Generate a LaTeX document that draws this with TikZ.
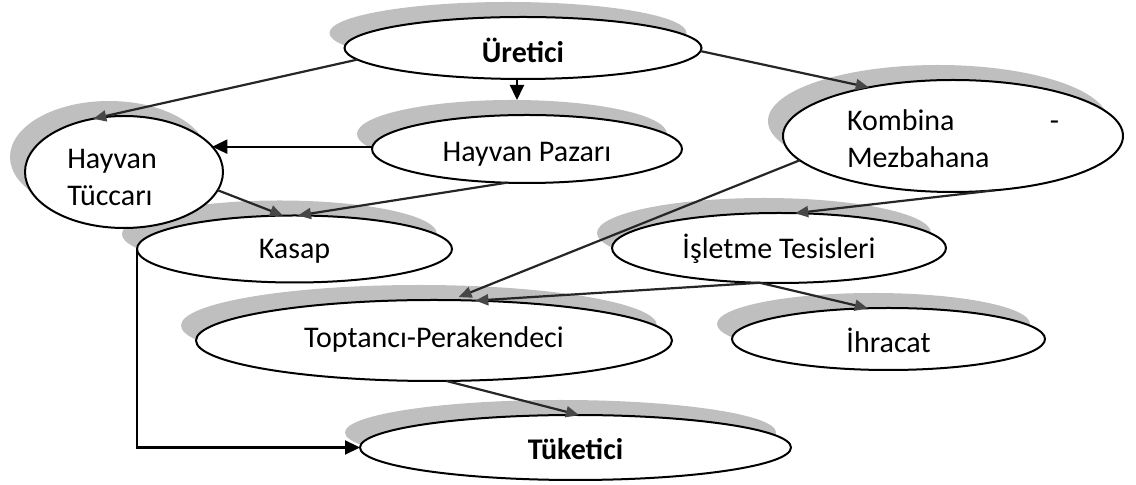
\documentclass[tikz,border=0pt]{standalone}
\usepackage{fontspec}
\setmainfont{Carlito}
\usetikzlibrary{arrows.meta,shapes.geometric}
\definecolor{shadowgray}{RGB}{191,191,191}

\begin{document}
\begin{tikzpicture}[x=0.5pt,y=-0.5pt,font=\fontsize{15}{18.5}\selectfont]
       \tikzstyle{blob}=[ellipse, draw, fill=white, line width=1pt, inner sep=0pt, outer sep=0pt, text depth=0pt]
       \tikzstyle{blobshadow}=[ellipse, fill=shadowgray, inner sep=0pt, outer sep=0pt]
       \tikzstyle{arr}=[line width=1.1pt, -{Triangle[length=7.5pt,width=7pt]}]
       \tikzstyle{arrg}=[line width=1.1pt, color=black!85, -{Triangle[length=6.5pt,width=5.5pt,color=black!72]}]

       \useasboundingbox (0,0) rectangle (1136,485);

       % shadows
       \node[blobshadow, minimum width=178.5pt, minimum height=31pt] (urs) at (508,33) {};
       \node[blobshadow, minimum width=99pt, minimum height=56pt] (hts) at (109,157) {};
       \node[blobshadow, minimum width=155pt, minimum height=34pt] (hps) at (512,134) {};
       \node[blobshadow, minimum width=170pt, minimum height=56pt] (kms) at (938,121) {};
       \node[blobshadow, minimum width=157.5pt, minimum height=33.5pt] (kss) at (279.5,234) {};
       \node[blobshadow, minimum width=167pt, minimum height=35pt] (its) at (764,233) {};
       \node[blobshadow, minimum width=238pt, minimum height=40.5pt] (tps) at (419,325.5) {};
       \node[blobshadow, minimum width=156.5pt, minimum height=31pt] (ihs) at (873.5,324) {};
       \node[blobshadow, minimum width=215.5pt, minimum height=32.5pt] (tks) at (560.5,432.5) {};

       % ellipses
       \node[blob, minimum width=178.5pt, minimum height=31pt, text height=15pt] (ur) at (523,48) {\textbf{Üretici}};
       \node[blob, minimum width=99pt, minimum height=56pt, text depth=] (ht) at (124,172)
            {\hspace*{-12pt}\raisebox{-4pt}[\height][\depth]{\begin{tabular}{@{}l@{}}Hayvan\\Tüccarı\end{tabular}}};
       \node[blob, minimum width=155pt, minimum height=34pt, text height=13pt] (hp) at (527,149) {Hayvan Pazarı};
       \node[blob, minimum width=170pt, minimum height=56pt, text depth=] (km) at (953,136)
            {\raisebox{-2.8pt}[\height][\depth]{\begin{tabular}{@{}l@{}}\makebox[106pt][l]{Kombina\hfill-}\\Mezbahana\end{tabular}}};
       \node[blob, minimum width=157.5pt, minimum height=33.5pt, text height=10pt] (ks) at (294.5,249) {Kasap};
       \node[blob, minimum width=167pt, minimum height=35pt, text height=11pt] (it) at (779,248) {İşletme Tesisleri};
       \node[blob, minimum width=238pt, minimum height=40.5pt, text height=7.5pt] (tp) at (434,340.5) {Toptancı-Perakendeci};
       \node[blob, minimum width=156.5pt, minimum height=31pt, text height=14pt] (ih) at (888.5,339) {İhracat};
       \node[blob, minimum width=215.5pt, minimum height=32.5pt, text height=12.5pt] (tk) at (575.5,447.5) {\textbf{Tüketici}};

       \path[arrg]
       (ur.184) edge (ht.120)
       (ur.359) edge (km.150)
       (ht.349) edge (ks.109)
       (hp.239) edge (ks.84)
       (km.308) edge (it.65)
       (km.189) edge [shorten >=4pt] (tp.67)
       (it.241) edge (tp.44)
       (it.241) edge (ih.124)
       (tp.287) edge (tk.84);

       \draw[arr] (ur.259) -- (ur.259 |- hps.north);
       \draw[arr] (ht.16 -| hp.west) -- (ht.16);
       \draw[arr] (ks.west) |- (tk.west);
\end{tikzpicture}
\end{document}
